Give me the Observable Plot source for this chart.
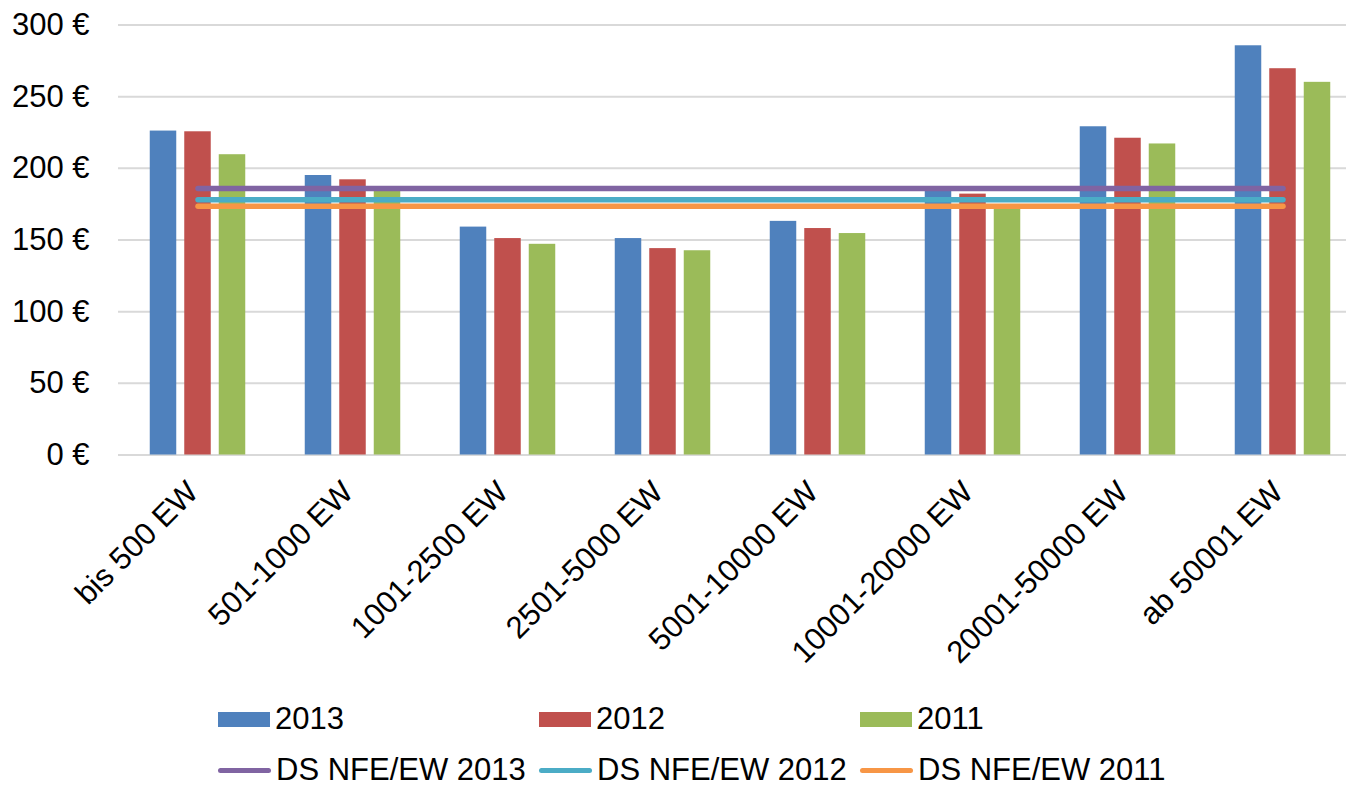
<!DOCTYPE html>
<html><head><meta charset="utf-8">
<script src="https://cdn.jsdelivr.net/npm/d3@7"></script>
<script src="https://cdn.jsdelivr.net/npm/@observablehq/plot@0.6"></script>
<style>
body{margin:0;background:#fff;font-family:"Liberation Sans",Arial,sans-serif;overflow:hidden;}
#chart svg{display:block;}
#legend{position:relative;height:90px;width:1346px;font-size:31px;color:#000;}
.item{position:absolute;display:flex;align-items:center;height:28px;line-height:28px;white-space:nowrap;}
.sw{width:52px;height:15px;margin-right:5px;}
.ln{width:53px;height:5px;border-radius:3px;margin-right:5px;}
</style></head><body><div id="chart"></div><div id="legend"></div>
<script>
const categories = ["bis 500 EW","501-1000 EW","1001-2500 EW","2501-5000 EW","5001-10000 EW","10001-20000 EW","20001-50000 EW","ab 50001 EW"];
const series = ["2013","2012","2011"];
const values2013 = [226, 195, 159, 151, 163, 184, 229, 285.5];
const values2012 = [225.5, 192, 151, 144, 158, 182, 221, 269.5];
const values2011 = [209.5, 185, 147, 142.5, 154.5, 173, 217, 260];
const avgLabels = ["DS NFE/EW 2013","DS NFE/EW 2012","DS NFE/EW 2011"];
const avgValues = [186, 178, 173.5];
const yTicks = [0, 50, 100, 150, 200, 250, 300];
const barColors = ["#4F81BD","#C0504D","#9BBB59"];
const lineColors = ["#8064A2","#4BACC6","#F79646"];

const seriesValues = [values2013, values2012, values2011];
const bars = categories.flatMap((c, i) => series.map((s, j) => ({category: c, series: s, value: seriesValues[j][i]})));
const lines = avgLabels.flatMap((s, k) => categories.map(c => ({category: c, series: s, value: avgValues[k]})));

const insets = [[29.75, 98.75], [64.25, 64.25], [98.75, 29.75]];

const chart = Plot.plot({
  width: 1346,
  height: 695,
  marginLeft: 118,
  marginRight: 0,
  marginTop: 24.5,
  marginBottom: 240.5,
  style: {fontFamily: "Liberation Sans, Arial, sans-serif", fontSize: "31px", color: "#000", background: "#fff", overflow: "visible"},
  x: {domain: categories, range: [118, 1362], padding: 0, label: null},
  y: {domain: [0, 300], range: [454.5, 24.5], label: null},
  color: {domain: [...series, ...avgLabels], range: [...barColors, ...lineColors]},
  marks: [
    Plot.ruleY(yTicks, {stroke: "#D9D9D9", strokeWidth: 2}),
    ...series.map((s, j) => Plot.barY(bars.filter(d => d.series === s), {
      x: "category", y: "value", fill: "series",
      insetLeft: insets[j][0], insetRight: insets[j][1]
    })),
    Plot.lineY(lines, {x: "category", y: "value", z: "series", stroke: "series", strokeWidth: 5.5, strokeLinecap: "round"}),
    Plot.axisY({ticks: yTicks, tickFormat: d => d + " €", tickSize: 0, tickPadding: 29, fontSize: 31, label: null}),
    Plot.axisX({tickRotate: -45, tickSize: 0, tickPadding: 32, dx: -5, fontSize: 31, label: null})
  ]
});
document.getElementById("chart").appendChild(chart);

const legend = document.getElementById("legend");
series.forEach((s, i) => {
  const it = document.createElement("div");
  it.className = "item";
  it.style.left = (218 + 321 * i) + "px";
  it.style.top = "10px";
  it.innerHTML = `<div class="sw" style="background:${barColors[i]}"></div><span>${s}</span>`;
  legend.appendChild(it);
});
avgLabels.forEach((s, i) => {
  const it = document.createElement("div");
  it.className = "item";
  it.style.left = (218 + 321 * i) + "px";
  it.style.top = "61px";
  it.innerHTML = `<div class="ln" style="background:${lineColors[i]}"></div><span>${s}</span>`;
  legend.appendChild(it);
});
</script></body></html>
